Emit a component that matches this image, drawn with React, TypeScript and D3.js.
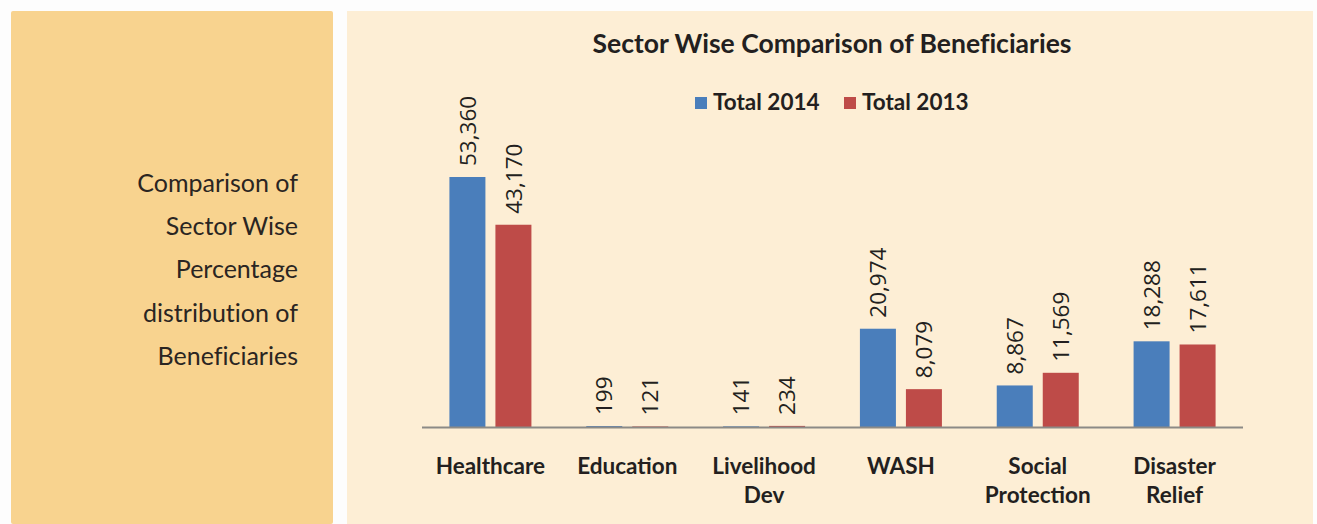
import React, {useEffect, useRef} from 'react';
import * as d3 from "d3"

const categories = ["Healthcare", "Education", "Livelihood Dev", "WASH", "Social Protection", "Disaster Relief"]
const seriesNames = ["Total 2014", "Total 2013"]
const total2014 = [53360, 199, 141, 20974, 8867, 18288]
const total2013 = [43170, 121, 234, 8079, 11569, 17611]
const sideText = ["Comparison of", "Sector Wise", "Percentage", "distribution of", "Beneficiaries"]

const W = 1317
const H = 524
const colors = ["#4a7ebb", "#be4b48"]

function App() {
  const ref = useRef<SVGSVGElement>(null)

  useEffect(() => {
    const svg = d3.select(ref.current)
    svg.selectAll("*").remove()

    svg.append("rect").attr("width", W).attr("height", H).attr("fill", "#fdfdfd")
    // left info panel
    svg.append("rect").attr("x", 11).attr("y", 11).attr("width", 322).attr("height", H - 11)
      .attr("rx", 2).attr("fill", "#f8d38f")
    // chart panel
    svg.append("rect").attr("x", 347).attr("y", 11).attr("width", 966).attr("height", H - 11)
      .attr("fill", "#fdeed5")

    svg.append("g")
      .selectAll("text")
      .data(sideText)
      .join("text")
        .attr("x", 298)
        .attr("y", (d, i) => 192 + i * 43.2)
        .attr("text-anchor", "end")
        .attr("font-family", "Lato, sans-serif")
        .attr("font-size", 25)
        .attr("fill", "#2a2522")
        .style("font-variant-ligatures", "none")
        .text(d => d)

    svg.append("text")
      .attr("x", 832).attr("y", 53)
      .attr("text-anchor", "middle")
      .attr("font-family", "Lato, sans-serif")
      .attr("font-weight", "bold")
      .attr("font-size", 26.5)
      .attr("fill", "#231f20")
      .style("font-variant-ligatures", "none")
      .text("Sector Wise Comparison of Beneficiaries")

    // legend
    const legendX = [695, 844]
    const legend = svg.append("g")
      .selectAll("g")
      .data(seriesNames)
      .join("g")
        .attr("transform", (d, i) => `translate(${legendX[i]},0)`)
    legend.append("rect")
      .attr("x", 0).attr("y", 97).attr("width", 12).attr("height", 12)
      .attr("fill", (d, i) => colors[i])
    legend.append("text")
      .attr("x", 18).attr("y", 110)
      .attr("font-family", "Lato, sans-serif")
      .attr("font-weight", "bold")
      .attr("font-size", 22.5)
      .attr("fill", "#231f20")
      .text(d => d)

    const x0 = d3.scaleBand<string>()
      .domain(categories)
      .range([422, 1243])
      .padding(0)

    const bw = x0.bandwidth()
    const x1 = d3.scaleBand<string>()
      .domain(seriesNames)
      .range([bw / 2 - 41, bw / 2 + 41])
      .paddingInner(10 / 46)
      .paddingOuter(0)

    const y = d3.scaleLinear()
      .domain([0, 54000])
      .range([427, 174])

    const rows = categories.map((c, i) => ({
      category: c,
      values: [
        {key: seriesNames[0], value: total2014[i], color: colors[0]},
        {key: seriesNames[1], value: total2013[i], color: colors[1]},
      ]
    }))

    const groups = svg.append("g")
      .selectAll("g")
      .data(rows)
      .join("g")
        .attr("transform", d => `translate(${x0(d.category)},0)`)

    groups.selectAll("rect")
      .data(d => d.values)
      .join("rect")
        .attr("x", d => x1(d.key) as number)
        .attr("y", d => y(d.value))
        .attr("width", x1.bandwidth())
        .attr("height", d => y(0) - y(d.value))
        .attr("fill", d => d.color)

    const fmt = d3.format(",")
    groups.selectAll("text.val")
      .data(d => d.values)
      .join("text")
        .attr("class", "val")
        .attr("transform", d => `translate(${(x1(d.key) as number) + x1.bandwidth() / 2},${y(d.value) - 11}) rotate(-90)`)
        .attr("dy", "0.36em")
        .attr("font-family", "'Open Sans', sans-serif")
        .attr("font-size", 22.5)
        .attr("fill", "#231f20")
        .text(d => fmt(d.value))

    // baseline
    svg.append("line")
      .attr("x1", 422).attr("x2", 1243)
      .attr("y1", y(0) + 0.5).attr("y2", y(0) + 0.5)
      .attr("stroke", "#8c8a86")
      .attr("stroke-width", 2)

    svg.append("g")
      .selectAll("text")
      .data(categories)
      .join("text")
        .attr("x", d => (x0(d) as number) + bw / 2)
        .attr("y", 474)
        .attr("text-anchor", "middle")
        .attr("font-family", "Lato, sans-serif")
        .attr("font-weight", "bold")
        .attr("font-size", 22.5)
        .attr("fill", "#231f20")
        .selectAll("tspan")
        .data(d => d.split(" "))
        .join("tspan")
          .attr("x", function () {
            return (this.parentNode as SVGTextElement).getAttribute("x")
          })
          .attr("dy", (d, i) => i === 0 ? 0 : 29)
          .text(d => d)
  }, [])

  return (
    <svg
      ref={ref}
      width={W}
      height={H}
      style={{position: "absolute", left: 0, top: 0}}
    />
  )
}

export default App
